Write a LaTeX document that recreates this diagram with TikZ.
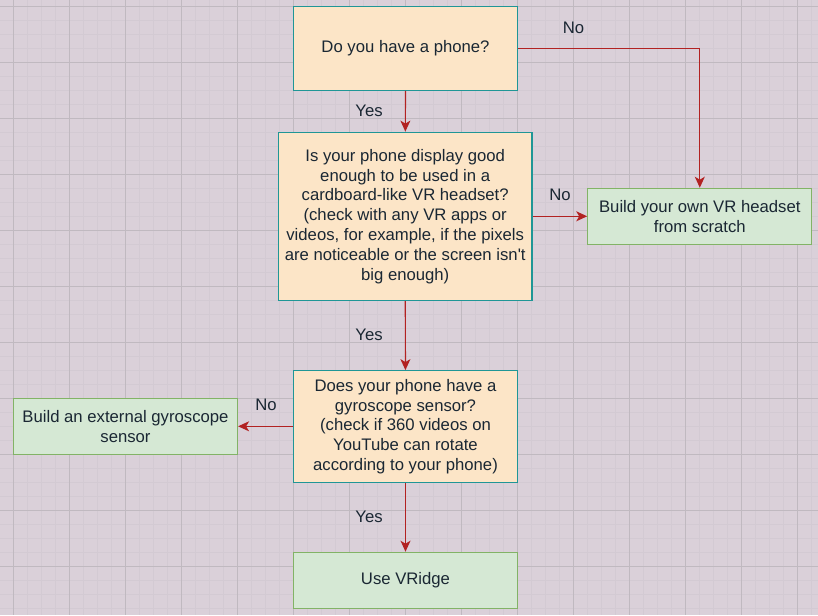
\documentclass[tikz,border=0pt]{standalone}
\usepackage{fontspec}
\setmainfont{Liberation Sans}[Ligatures=TeXOff]
\usetikzlibrary{arrows.meta}
\definecolor{bgpink}{HTML}{DAD0D9}
\definecolor{gridminor}{HTML}{D3CAD3}
\definecolor{gridmajor}{HTML}{C0B9C0}
\definecolor{askfill}{HTML}{FCE5C7}
\definecolor{askline}{HTML}{1F9696}
\definecolor{actfill}{HTML}{D5E8D4}
\definecolor{actline}{HTML}{82B366}
\definecolor{flowred}{HTML}{B22222}
\definecolor{inkblue}{HTML}{1A2733}
\tikzset{
  txt/.style={font=\fontsize{16.7}{19.8}\selectfont, text=inkblue, align=center},
  ask/.style={txt, draw=askline, fill=askfill, line width=1.2pt, inner sep=0pt, minimum width=224pt},
  act/.style={txt, draw=actline, fill=actfill, line width=1.2pt, inner sep=0pt, minimum width=224pt, minimum height=56pt},
  flow/.style={draw=flowred, line width=1.2pt, -{Stealth[length=11pt,width=10pt,inset=3pt]}},
  ans/.style={txt}
}

\begin{document}
\begin{tikzpicture}[x=1pt,y=-1pt]
  \useasboundingbox (0,0) rectangle (818,615);
  \fill[bgpink] (0,0) rectangle (818,615);
  % grid
  \foreach \i in {0,...,59} \draw[gridminor,line width=0.8pt] (-0.7+14*\i,0) -- (-0.7+14*\i,615);
  \foreach \j in {0,...,44} \draw[gridminor,line width=0.8pt] (0,6.7+14*\j) -- (818,6.7+14*\j);
  \foreach \i in {0,...,14} \draw[gridmajor,line width=0.9pt] (13.3+56*\i,0) -- (13.3+56*\i,615);
  \foreach \j in {0,...,10} \draw[gridmajor,line width=0.9pt] (0,6.7+56*\j) -- (818,6.7+56*\j);

  \node[ask, minimum height=83.6pt] (phone) at (405.5,48.5) {Do you have a phone?};
  \node[ask, minimum width=253.7pt, minimum height=168.4pt] (display) at (405.2,216.4)
    {Is your phone display good\\enough to be used in a\\cardboard-like VR headset?\\(check with any VR apps or\\videos, for example, if the pixels\\are noticeable or the screen isn't\\big enough)};
  \node[ask, minimum height=111.6pt] (gyro) at (405.5,426.5)
    {Does your phone have a\\gyroscope sensor?\\(check if 360 videos on\\YouTube can rotate\\according to your phone)};
  \node[act] (vridge) at (405.5,580.3) {Use VRidge};
  \node[act] (own) at (699.8,216.3) {Build your own VR headset\\from scratch};
  \node[act] (external) at (125.5,426.3) {Build an external gyroscope\\sensor};

  \draw[flow] (phone) -- (display);
  \draw[flow] (phone.east) -| (own.north);
  \draw[flow] (display.east |- own) -- (own.west);
  \draw[flow] (display) -- (gyro);
  \draw[flow] (gyro.west |- external) -- (external.east);
  \draw[flow] (gyro) -- (vridge);

  \node[ans] (yes1) at (369,111) {Yes};
  \node[ans] (no1) at (573.5,27.5) {No};
  \node[ans] (no2) at (560,195) {No};
  \node[ans] (yes2) at (369,335) {Yes};
  \node[ans] (no3) at (266,405) {No};
  \node[ans] (yes3) at (369,517) {Yes};
\end{tikzpicture}
\end{document}
